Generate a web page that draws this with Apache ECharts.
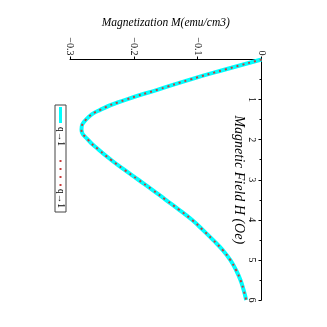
<!DOCTYPE html>
<html>
<head>
<meta charset="utf-8">
<script src="https://cdn.jsdelivr.net/npm/echarts@6/dist/echarts.min.js"></script>
<style>
  html, body { margin: 0; padding: 0; background: #fff; }
  #chart { width: 327px; height: 327px; }
</style>
</head>
<body>
<div id="chart"></div>
<script>
// field values H (Oe)
const fieldH = [0, 0.25, 0.5, 0.75, 1, 1.25, 1.5, 1.75, 2, 2.25, 2.5, 2.75, 3,
  3.25, 3.5, 3.75, 4, 4.25, 4.5, 4.75, 5, 5.25, 5.5, 5.75, 6]
// magnetization M for q->1 (solid cyan) and q->1 (red dots), both curves overlap
const magSolid = [0, -0.057, -0.112, -0.162, -0.212, -0.252, -0.275, -0.282, -0.272,
  -0.255, -0.236, -0.215, -0.193, -0.171, -0.150, -0.129, -0.109, -0.092, -0.076,
  -0.061, -0.049, -0.040, -0.033, -0.028, -0.024]
const magDotted = [0, -0.057, -0.112, -0.162, -0.212, -0.252, -0.275, -0.282, -0.272,
  -0.255, -0.236, -0.215, -0.193, -0.171, -0.150, -0.129, -0.109, -0.092, -0.076,
  -0.061, -0.049, -0.040, -0.033, -0.028, -0.024]
const legendNames = ['q→1', 'q→1']

const serif = 'Liberation Serif'
const toPairs = (m) => m.map((v, i) => [v, fieldH[i]])

const chart = echarts.init(document.getElementById('chart'))

const option = {
  backgroundColor: '#fff',
  animation: false,
  grid: { left: 70, right: 65.5, top: 59.5, bottom: 27 },
  xAxis: {
    type: 'value',
    position: 'top',
    min: -0.3,
    max: 0,
    interval: 0.1,
    name: 'Magnetization M(emu/cm3)',
    nameLocation: 'middle',
    nameGap: 26,
    nameTextStyle: { fontFamily: serif, fontStyle: 'italic', fontSize: 11.5, color: '#000' },
    axisLine: { lineStyle: { color: '#000', width: 1 } },
    axisTick: { length: 3, lineStyle: { color: '#000' } },
    axisLabel: {
      rotate: -90,
      margin: 4,
      fontFamily: serif,
      fontSize: 10,
      color: '#000',
      formatter: (v) => (v === 0 ? '0' : String(+v.toFixed(1)).replace('-', '−'))
    },
    splitLine: { show: false }
  },
  yAxis: {
    type: 'value',
    position: 'right',
    inverse: true,
    min: 0,
    max: 6,
    interval: 1,
    name: 'Magnetic Field H (Oe)',
    nameLocation: 'middle',
    nameGap: -30,
    nameMoveOverlap: false,
    nameRotate: -90,
    nameTextStyle: { fontFamily: serif, fontStyle: 'italic', fontSize: 14, color: '#000' },
    axisLine: { show: true, lineStyle: { color: '#000', width: 1 } },
    axisTick: { inside: true, length: 3, lineStyle: { color: '#000' } },
    minorTick: { show: true, splitNumber: 2, length: 2, lineStyle: { color: '#000' } },
    axisLabel: {
      inside: true,
      rotate: -90,
      margin: 5,
      showMinLabel: false,
      fontFamily: serif,
      fontSize: 10,
      color: '#000'
    },
    splitLine: { show: false }
  },
  series: [
    {
      name: legendNames[0],
      type: 'line',
      data: toPairs(magSolid),
      smooth: true,
      symbol: 'none',
      lineStyle: { color: '#00ffff', width: 4 }
    },
    {
      name: legendNames[1],
      type: 'line',
      data: toPairs(magDotted),
      smooth: true,
      symbol: 'none',
      lineStyle: { color: '#c83c3c', width: 2, type: [2, 4], cap: 'butt' }
    }
  ],
  // legend box, drawn turned like the rest of the figure
  graphic: [{
    type: 'group',
    x: 66,
    y: 105,
    rotation: -Math.PI / 2,
    children: [
      { type: 'rect', shape: { x: 0, y: 0, width: 107, height: 11 },
        style: { fill: '#fff', stroke: '#444', lineWidth: 1 } },
      { type: 'line', shape: { x1: 2, y1: 5.5, x2: 18, y2: 5.5 },
        style: { stroke: '#00ffff', lineWidth: 3 } },
      { type: 'text', x: 22, y: 5.5,
        style: { text: legendNames[0], fontFamily: serif, fontSize: 9.5, fill: '#000', verticalAlign: 'middle' } },
      { type: 'line', shape: { x1: 55, y1: 5.5, x2: 81, y2: 5.5 },
        style: { stroke: '#c83c3c', lineWidth: 2, lineDash: [2, 6] } },
      { type: 'text', x: 84, y: 5.5,
        style: { text: legendNames[1], fontFamily: serif, fontSize: 9.5, fill: '#000', verticalAlign: 'middle' } }
    ]
  }]
}

chart.setOption(option)
window.addEventListener('resize', () => chart.resize())
</script>
</body>
</html>
